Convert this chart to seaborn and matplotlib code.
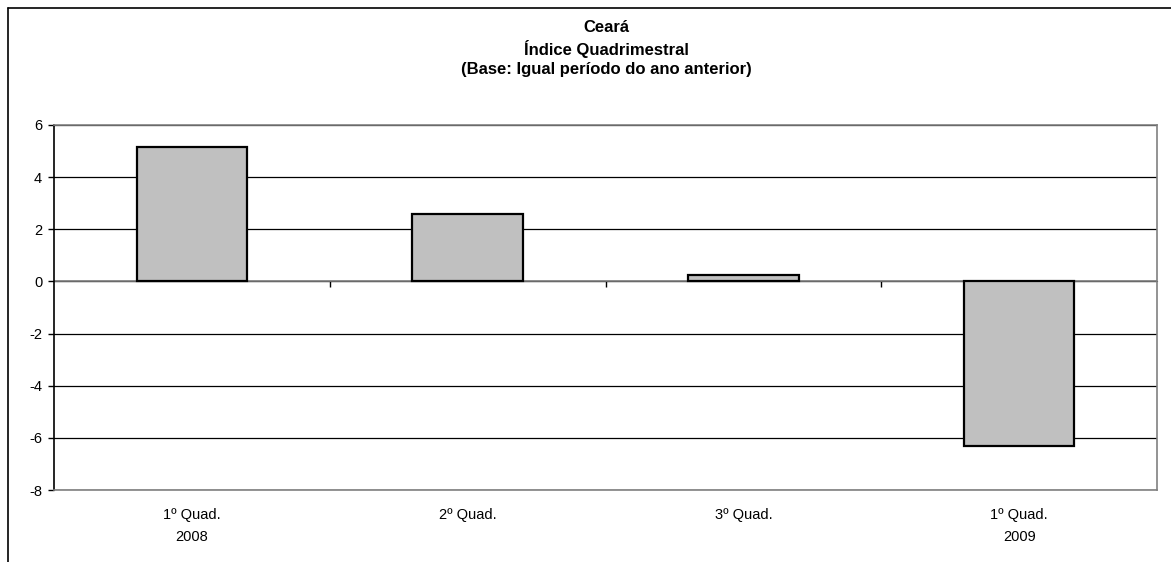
import numpy as np
import pandas as pd
import matplotlib.pyplot as plt
import seaborn as sbn

# Values
categories = ["1º Quad.\n2008", "2º Quad.", "3º Quad.", "1º Quad.\n2009"]
indice = [5.15, 2.58, 0.24, -6.32]
yticks = [-8, -6, -4, -2, 0, 2, 4, 6]

df = pd.DataFrame({"Periodo": categories, "Indice": indice})

sbn.set_style("white")
plt.rcParams['font.family'] = ['Liberation Sans', 'DejaVu Sans']
plt.rcParams['text.color'] = 'black'
plt.rcParams['xtick.color'] = 'black'
plt.rcParams['ytick.color'] = 'black'

W, H = 1171, 562
fig = plt.figure(figsize=(W / 100, H / 100), dpi=100)
left, right, top, bottom = 54, 1157, 125, 490
ax = fig.add_axes([left / W, 1 - bottom / H, (right - left) / W, (bottom - top) / H])

sbn.barplot(data=df, x="Periodo", y="Indice", color="#C0C0C0", saturation=1,
            edgecolor="black", linewidth=1.6, width=0.4, ax=ax, zorder=3)

ax.set_xlim(-0.5, len(categories) - 0.5)
ax.set_ylim(min(yticks), max(yticks))
ax.set_yticks(yticks)
ax.set_yticklabels([str(t) for t in yticks], fontsize=10.5)
ax.grid(True, axis='y', color='black', lw=0.9)
ax.set_axisbelow(True)
ax.set_xlabel("")
ax.set_ylabel("")

# grey plot-area frame, black value axis
for s in ['top', 'right', 'bottom']:
    ax.spines[s].set_visible(True)
    ax.spines[s].set_color('#808080')
    ax.spines[s].set_linewidth(1.2)
ax.spines['left'].set_color('black')
ax.spines['left'].set_linewidth(1.2)
ax.tick_params(axis='y', length=4.5, width=1, direction='out', pad=4, left=True)
ax.tick_params(axis='x', length=0, pad=13, labelsize=10.5)
for lab in ax.get_xticklabels():
    lab.set_multialignment('center')
    lab.set_linespacing(1.7)

# category axis drawn at zero with ticks between categories
ax.axhline(0, color='#808080', lw=1.2, zorder=2)
sec = ax.secondary_xaxis((0 - min(yticks)) / (max(yticks) - min(yticks)))
sec.set_xticks(np.arange(len(categories) - 1) + 0.5)
sec.set_xticklabels([])
sec.tick_params(axis='x', length=4.5, width=1, direction='in', color='black')
sec.spines['bottom'].set_visible(False)

fig.text(606 / W, 1 - 48.5 / H, "Ceará\nÍndice Quadrimestral\n(Base: Igual período do ano anterior)",
         ha='center', va='center', fontsize=12, fontweight='bold', linespacing=1.3)

# outer chart frame
fig.add_artist(plt.Line2D([8 / W, 8 / W], [0, 1 - 8 / H], color='black', lw=1.2))
fig.add_artist(plt.Line2D([8 / W, 1], [1 - 8 / H, 1 - 8 / H], color='black', lw=1.2))

plt.savefig("out.png", dpi=100)
